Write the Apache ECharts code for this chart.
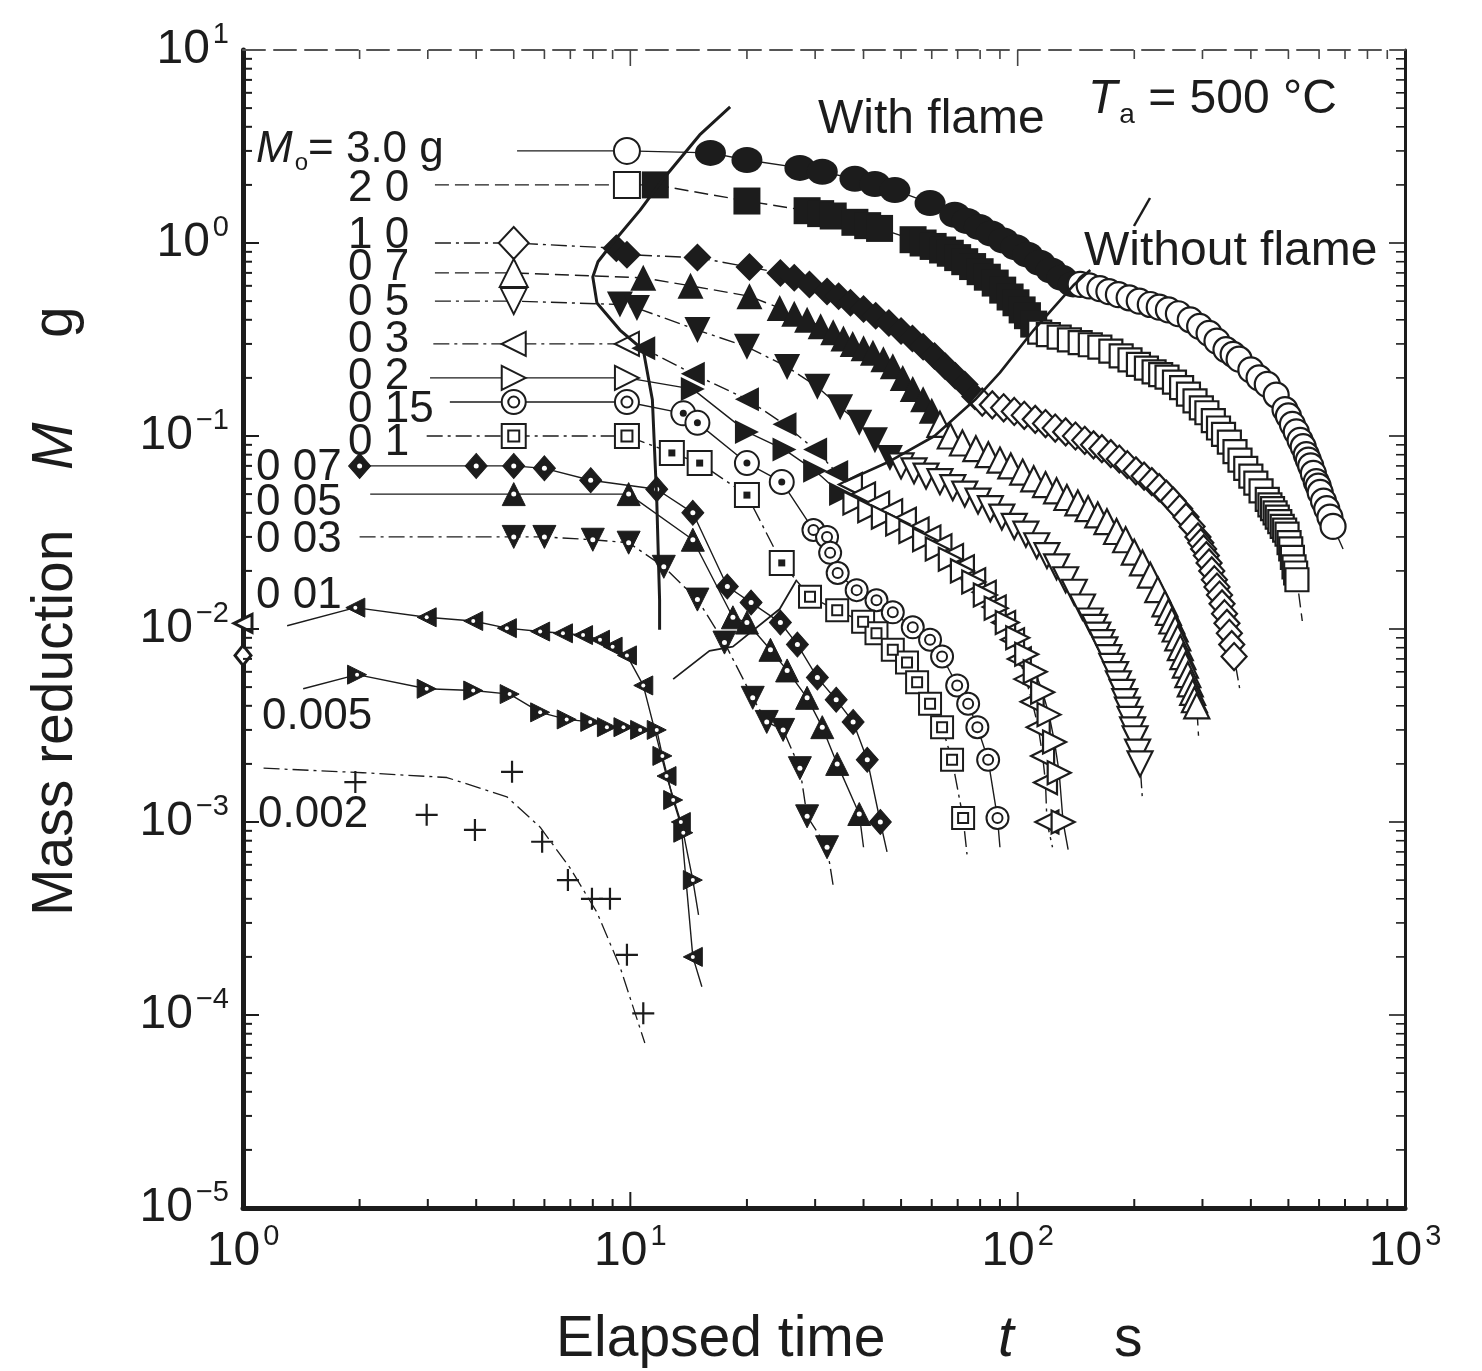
<!DOCTYPE html>
<html>
<head>
<meta charset="utf-8">
<script src="https://cdn.jsdelivr.net/npm/echarts@6/dist/echarts.min.js"></script>
<style>
  html, body { margin: 0; padding: 0; background: #fff; }
  #chart { width: 1482px; height: 1371px; }
</style>
</head>
<body>
<div id="chart"></div>
<script>
// Mass remaining M (g) against elapsed time t (s) for wood samples of initial mass M0, Ta = 500 C.
// Each sample: open marks before ignition, filled marks while flaming, open marks after the flame.

// ---- axis tick values ----
const xMajorTicks = [10, 100];
const xMinorTicks = [2, 3, 4, 5, 6, 7, 8, 9, 20, 30, 40, 50, 60, 70, 80, 90, 200, 300, 400, 500, 600, 700, 800, 900];
const yMajorTicks = [1e-4, 1e-3, 1e-2, 1e-1, 1];
const yMinorTicks = [
  2e-5, 3e-5, 4e-5, 5e-5, 6e-5, 7e-5, 8e-5, 9e-5,
  2e-4, 3e-4, 4e-4, 5e-4, 6e-4, 7e-4, 8e-4, 9e-4,
  2e-3, 3e-3, 4e-3, 5e-3, 6e-3, 7e-3, 8e-3, 9e-3,
  2e-2, 3e-2, 4e-2, 5e-2, 6e-2, 7e-2, 8e-2, 9e-2,
  0.2, 0.3, 0.4, 0.5, 0.6, 0.7, 0.8, 0.9,
  2, 3, 4, 5, 6, 7, 8, 9
];

// ---- M0 = 3.0 g (circles) ----
const m30Lead = [5.1, 3.0];
const m30Before = [[9.8, 3.0]];
const m30Flame = [[16.1, 2.93], [20, 2.69], [27.4, 2.45], [31.3, 2.34], [38, 2.15], [42.8, 2.02], [48.2, 1.88], [59.4, 1.61], [68.8, 1.40], [74, 1.30], [79.6, 1.21], [85.5, 1.12], [91.9, 1.03], [98.8, 0.95], [106, 0.87], [114, 0.79], [122, 0.72], [130, 0.66], [139, 0.61]];
const m30After = [[145, 0.61], [153, 0.60], [163, 0.58], [172, 0.56], [182, 0.54], [194, 0.52], [206, 0.50], [220, 0.48], [232, 0.465], [245, 0.45], [260, 0.43], [279, 0.40], [295, 0.37], [312, 0.34], [327, 0.31], [345, 0.28], [360, 0.265], [373, 0.25], [400, 0.22], [420, 0.20], [441, 0.185], [465, 0.163], [490, 0.137], [500, 0.127], [512, 0.115], [524, 0.105], [536, 0.095], [546, 0.088], [556, 0.08], [563, 0.075], [571, 0.07], [580, 0.064], [590, 0.058], [597, 0.055], [604, 0.051], [616, 0.046], [628, 0.042], [640, 0.038], [652, 0.034]];
const m30Tail = [692, 0.026];

// ---- M0 = 2.0 g (squares) ----
const m20Lead = [3.13, 2.0];
const m20Before = [[9.8, 2.0]];
const m20Flame = [[11.6, 2.0], [20, 1.65], [28.6, 1.47], [31, 1.42], [33.4, 1.38], [38, 1.28], [41, 1.23], [44, 1.19], [53.7, 1.04], [57, 1.0], [60.5, 0.96], [64, 0.92], [67, 0.885], [70, 0.84], [73, 0.80], [76.5, 0.755], [80, 0.71], [83.5, 0.665], [87.5, 0.62], [91.5, 0.57], [95.6, 0.525], [99, 0.49], [102.7, 0.45], [106, 0.42], [110, 0.38]];
const m20After = [[114, 0.345], [120, 0.335], [128, 0.325], [136, 0.315], [145, 0.305], [154, 0.297], [163, 0.289], [174, 0.275], [185, 0.26], [195, 0.248], [205, 0.235], [215, 0.225], [225, 0.215], [234, 0.208], [243, 0.202], [254, 0.19], [265, 0.178], [276, 0.165], [287, 0.152], [298, 0.14], [308, 0.132], [320, 0.12], [330, 0.11], [340, 0.102], [352, 0.093], [364, 0.083], [375, 0.075], [388, 0.068], [400, 0.062], [412, 0.057], [425, 0.052], [441, 0.047], [448, 0.044], [455, 0.042], [462, 0.040], [468, 0.038], [475, 0.036], [482, 0.034], [489, 0.0325], [496, 0.031], [502, 0.028], [507, 0.026], [512, 0.0235], [517, 0.021], [522, 0.0195], [526, 0.018]];
const m20Tail = [543, 0.011];

// ---- M0 = 1.0 g (diamonds) ----
const m10Lead = [3.13, 1.0];
const m10Before = [[5.0, 1.0]];
const m10Flame = [[9.2, 0.94], [9.8, 0.87], [14.9, 0.84], [20.3, 0.75], [24.4, 0.70], [26.5, 0.66], [29, 0.61], [32.2, 0.56], [34.5, 0.53], [37, 0.49], [40, 0.455], [43, 0.42], [46.5, 0.385], [50, 0.35], [53.5, 0.32], [57, 0.29], [61, 0.26], [65, 0.23], [69, 0.205], [73, 0.185], [77.6, 0.16]];
const m10After = [[81, 0.15], [86, 0.145], [92, 0.14], [98, 0.134], [104, 0.128], [111, 0.122], [118, 0.116], [125, 0.11], [133, 0.105], [141, 0.1], [149, 0.095], [157, 0.09], [165, 0.086], [174, 0.081], [183, 0.076], [192, 0.071], [202, 0.066], [212, 0.062], [222, 0.058], [232, 0.054], [242, 0.05], [252, 0.046], [262, 0.042], [272, 0.038], [282, 0.034], [292, 0.03], [297, 0.028], [302, 0.026], [307, 0.024], [312, 0.022], [317, 0.02], [322, 0.018], [327, 0.0165], [332, 0.015], [337, 0.0135], [342, 0.012], [347, 0.0107], [352, 0.0095], [357, 0.0083], [362, 0.0072]];
const m10Tail = [375, 0.0048];

// ---- M0 = 0.7 g (triangles up) ----
const m07Lead = [3.13, 0.7];
const m07Before = [[5.0, 0.7]];
const m07Flame = [[10.8, 0.66], [14.3, 0.60], [20.3, 0.53], [24.3, 0.46], [26.5, 0.43], [28.6, 0.40], [31, 0.37], [33.4, 0.345], [35.5, 0.32], [37.5, 0.30], [40, 0.285], [42.3, 0.27], [45, 0.25], [47.6, 0.23], [50.5, 0.2], [53.6, 0.175], [57, 0.155], [60, 0.135]];
const m07After = [[63, 0.115], [67, 0.1], [72, 0.092], [78, 0.086], [84, 0.08], [90, 0.075], [96, 0.07], [103, 0.065], [110, 0.06], [118, 0.056], [126, 0.052], [134, 0.048], [143, 0.045], [152, 0.042], [161, 0.039], [170, 0.036], [180, 0.032], [190, 0.029], [200, 0.025], [210, 0.022], [220, 0.019], [230, 0.016], [240, 0.0135], [245, 0.0122], [250, 0.011], [255, 0.01], [259, 0.009], [263, 0.008], [267, 0.0072], [271, 0.0065], [275, 0.0058], [279, 0.0052], [283, 0.0047], [286, 0.0043], [290, 0.004]];
const m07Tail = [293, 0.0028];

// ---- M0 = 0.5 g (triangles down) ----
const m05Lead = [3.13, 0.5];
const m05Before = [[5.0, 0.5]];
const m05Flame = [[9.4, 0.48], [10.4, 0.46], [14.9, 0.354], [20, 0.29], [25.4, 0.228], [30.4, 0.18], [34.8, 0.141], [39, 0.117], [42.8, 0.095], [46.8, 0.077]];
const m05After = [[50, 0.07], [54, 0.066], [58, 0.062], [63, 0.058], [68, 0.054], [73, 0.05], [79, 0.046], [85, 0.042], [91, 0.038], [98, 0.034], [105, 0.031], [112, 0.027], [119, 0.024], [126, 0.021], [133, 0.018], [140, 0.0155], [147, 0.013], [154, 0.011], [158, 0.0102], [161, 0.0093], [165, 0.0085], [168, 0.0078], [172, 0.0071], [175, 0.0064], [179, 0.0058], [182, 0.0052], [186, 0.0047], [189, 0.0042], [192, 0.0038], [195, 0.0034], [198, 0.003], [201, 0.0027], [204, 0.0023], [207, 0.002]];
const m05Tail = [210, 0.0013];

// ---- M0 = 0.3 g (triangles left) ----
const m03Lead = [3.1, 0.3];
const m03Before = [[5.0, 0.3], [9.8, 0.3]];
const m03Flame = [[10.8, 0.285], [14.5, 0.21], [20, 0.155], [25, 0.115], [30, 0.085], [34, 0.065]];
const m03After = [[37, 0.056], [40, 0.05], [43.5, 0.045], [47, 0.041], [51, 0.037], [55, 0.033], [59, 0.03], [63, 0.027], [67.5, 0.024], [72, 0.021], [77, 0.018], [82, 0.0155], [87, 0.013], [92, 0.0108], [97, 0.0088], [101, 0.007], [105, 0.0055], [109, 0.0042], [113, 0.0031], [116, 0.0022], [118, 0.0016], [119, 0.001]];
const m03Tail = [123, 0.00074];

// ---- M0 = 0.2 g (triangles right) ----
const m02Lead = [3.04, 0.2];
const m02Before = [[5.0, 0.2], [9.8, 0.2]];
const m02Flame = [[14.5, 0.175], [20, 0.105], [25, 0.085], [30, 0.066], [35, 0.05]];
const m02After = [[38, 0.045], [41.5, 0.041], [45, 0.038], [49, 0.035], [53, 0.032], [57.5, 0.029], [62, 0.026], [67, 0.023], [72, 0.02], [77, 0.0175], [82.5, 0.015], [88, 0.0128], [94, 0.0108], [100, 0.009], [105.5, 0.0074], [111, 0.006], [116, 0.0047], [120.5, 0.0036], [124.5, 0.0026], [128, 0.0018], [131, 0.001]];
const m02Tail = [135, 0.00072];

// ---- M0 = 0.15 g (double circles) ----
const m015Lead = [3.42, 0.15];
const m015Before = [[5.0, 0.15], [9.8, 0.15]];
const m015Flame = [[13.7, 0.131], [14.9, 0.117], [20, 0.0724], [24.6, 0.0578]];
const m015After = [[29.7, 0.0326], [32.2, 0.030], [32.8, 0.0248], [34.3, 0.0195], [38.4, 0.0159], [43.2, 0.0141], [47.6, 0.0122], [53.6, 0.0102], [59.4, 0.0088], [63.8, 0.0072], [69.8, 0.0051], [74.5, 0.0041], [78.7, 0.0031], [83.9, 0.0021], [88.7, 0.00105]];
const m015Tail = [90, 0.00074];

// ---- M0 = 0.1 g (squares with inner square) ----
const m01Lead = [2.98, 0.1];
const m01Before = [[5.0, 0.1], [9.8, 0.1]];
const m01Flame = [[12.8, 0.0817], [15.1, 0.0724], [20, 0.0494], [24.6, 0.022]];
const m01After = [[29.1, 0.0147], [34.2, 0.0125], [39.9, 0.0109], [43.2, 0.0095], [47.6, 0.0078], [51.8, 0.0067], [55, 0.0053], [59.4, 0.0041], [63.8, 0.0031], [67.7, 0.0021], [72.3, 0.00105]];
const m01Tail = [74, 0.00068];

// ---- M0 = 0.07, 0.05, 0.03 g ----
const m007Pts = [[2, 0.07], [4, 0.07], [5, 0.07], [6, 0.068], [7.9, 0.059], [11.7, 0.053], [14.5, 0.04], [17.8, 0.0166], [20.5, 0.0137], [24.4, 0.0108], [27, 0.0083], [30.4, 0.0056], [34, 0.0043], [37.6, 0.0033], [40.9, 0.0021], [44.2, 0.001]];
const m007Tail = [46, 0.0007];
const m005Lead = [2.13, 0.05];
const m005Pts = [[5, 0.05], [9.9, 0.05], [14.5, 0.029], [18.4, 0.0115], [20, 0.0108], [23, 0.0078], [25.4, 0.0061], [28.6, 0.0044], [31.3, 0.0031], [34.2, 0.002], [39, 0.0011]];
const m005Tail = [40, 0.00074];
const m003Lead = [2.0, 0.03];
const m003Pts = [[5, 0.03], [6, 0.03], [8, 0.029], [9.9, 0.028], [12.2, 0.021], [14.9, 0.0142], [17.5, 0.0085], [20.7, 0.0044], [22.5, 0.0033], [24.8, 0.003], [27.4, 0.0019], [28.6, 0.00107], [32.2, 0.00074]];
const m003Tail = [33.5, 0.00045];

// ---- M0 = 0.01, 0.005, 0.002 g ----
const m0010Lead = [1.3, 0.0104];
const m0010Pts = [[1.95, 0.0129], [2.98, 0.0115], [3.93, 0.011], [4.8, 0.0101], [5.85, 0.0097], [6.7, 0.0095], [7.55, 0.0093], [8.35, 0.0088], [9.0, 0.0081], [9.8, 0.0073], [10.8, 0.0051], [12.4, 0.00173], [13.5, 0.001], [14.5, 0.0002]];
const m0010Tail = [15.3, 0.00014];
const m0010AxisPts = [[1, 0.0107]];
const m0005Lead = [1.43, 0.0049];
const m0005Pts = [[1.97, 0.0058], [2.98, 0.0049], [3.93, 0.0048], [4.88, 0.0046], [5.85, 0.0037], [6.85, 0.0034], [7.88, 0.0033], [8.7, 0.0031], [9.6, 0.0031], [10.6, 0.003], [11.7, 0.003], [12.1, 0.0022], [12.9, 0.0013], [13.7, 0.00088], [14.5, 0.0005]];
const m0005Tail = [15, 0.00033];
const m0005AxisPts = [[1, 0.0073]];
const m0002Pts = [[1.95, 0.00161], [2.98, 0.00109], [3.97, 0.00091], [4.95, 0.00182], [5.92, 0.00079], [6.9, 0.0005], [7.96, 0.0004], [8.86, 0.0004], [9.8, 0.000205], [10.8, 0.000102]];
const m0002Fit = [[1.13, 0.0019], [2.04, 0.0018], [3.36, 0.0017], [4.8, 0.00135], [5.85, 0.00094], [6.98, 0.00058], [8.2, 0.00034], [9.4, 0.000178], [10.9, 0.0000716]];

// ---- boundaries between the burning regimes ----
const ignitionLine = [[18.1, 5.07], [15.1, 3.63], [12.1, 2.12], [10.6, 1.48], [9.0, 1.0], [8.25, 0.80], [8.0, 0.667], [8.2, 0.489], [9.4, 0.354], [10.8, 0.279], [11.4, 0.154], [11.7, 0.0466], [11.9, 0.0141], [11.9, 0.0099]];
const extinctionLine = [[154, 0.724], [140, 0.61], [110, 0.354], [90, 0.213], [77.6, 0.154], [61, 0.10], [46.8, 0.074], [35.8, 0.058]];
const extinctionLower = [[26.9, 0.018], [24.3, 0.0127], [18.4, 0.0081], [16, 0.0077], [12.9, 0.0055]];

// ---------------------------------------------------------------
const INK = '#1c1c1c';
const FONT = '"Liberation Sans", Arial, sans-serif';
const series = [];

function addLine(data, type, width, z) {
  series.push({
    type: 'line', data: data, symbol: 'none', showSymbol: false, silent: true,
    z: z || 2, animation: false,
    lineStyle: { color: INK, width: width || 1.4, type: type || 'solid' }
  });
}
function addMarks(data, symbol, size, opt) {
  opt = opt || {};
  series.push({
    type: 'scatter', data: data, symbol: symbol, symbolSize: size,
    symbolRotate: opt.rot || 0, silent: true, z: opt.z || 3, animation: false,
    itemStyle: {
      color: opt.fill || '#fff', borderColor: INK,
      borderWidth: opt.bw === undefined ? 2 : opt.bw, opacity: 1
    }
  });
}
// dark mark with a small light centre
function addDarkMarks(data, symbol, size, rot, dot) {
  addMarks(data, symbol, size, { rot: rot, fill: INK, bw: 1 });
  addMarks(data, 'circle', dot || 5, { fill: '#fff', bw: 0, z: 4 });
}
const pts = (lead, groups, tail) => [].concat(lead ? [lead] : [], ...groups, tail ? [tail] : []);

const DASH = [14, 6];
const DASHDOT = [16, 5, 3, 5];
const PLUS = 'path://M9,0h2v9h9v2h-9v9h-2v-9h-9v-2h9z';

// 3.0 g
addLine(pts(m30Lead, [m30Before, m30Flame, m30After], m30Tail), 'solid');
addMarks(m30Before, 'circle', 26);
addMarks(m30Flame, 'circle', [31, 26], { fill: INK, bw: 0 });
addMarks(m30After, 'circle', 25, { bw: 2.2 });
// 2.0 g
addLine(pts(m20Lead, [m20Before, m20Flame, m20After], m20Tail), DASH);
addMarks(m20Before, 'rect', 26);
addMarks(m20Flame, 'rect', 27, { fill: INK, bw: 0 });
addMarks(m20After, 'rect', 23, { bw: 2.2 });
// 1.0 g
addLine(pts(m10Lead, [m10Before, m10Flame, m10After], m10Tail), DASHDOT);
addMarks(m10Before, 'diamond', [30, 32]);
addMarks(m10Flame, 'diamond', [28, 28], { fill: INK, bw: 0 });
addMarks(m10After, 'diamond', [25, 27], { bw: 2.2 });
// 0.7 g
addLine(pts(m07Lead, [m07Before, m07Flame, m07After], m07Tail), DASH);
addMarks(m07Before, 'triangle', 28);
addMarks(m07Flame, 'triangle', 26, { fill: INK, bw: 0 });
addMarks(m07After, 'triangle', 25, { bw: 2.2 });
// 0.5 g
addLine(pts(m05Lead, [m05Before, m05Flame, m05After], m05Tail), DASHDOT);
addMarks(m05Before, 'triangle', 26, { rot: 180 });
addMarks(m05Flame, 'triangle', 26, { rot: 180, fill: INK, bw: 0 });
addMarks(m05After, 'triangle', 25, { rot: 180, bw: 2.2 });
// 0.3 g
addLine(pts(m03Lead, [m03Before, m03Flame, m03After], m03Tail), DASHDOT);
addMarks(m03Before, 'triangle', 24, { rot: 90 });
addMarks(m03Flame, 'triangle', 24, { rot: 90, fill: INK, bw: 0 });
addMarks(m03After, 'triangle', 23, { rot: 90, bw: 2.2 });
// 0.2 g
addLine(pts(m02Lead, [m02Before, m02Flame, m02After], m02Tail), 'solid');
addMarks(m02Before, 'triangle', 24, { rot: -90 });
addMarks(m02Flame, 'triangle', 24, { rot: -90, fill: INK, bw: 0 });
addMarks(m02After, 'triangle', 23, { rot: -90, bw: 2.2 });
// 0.15 g
addLine(pts(m015Lead, [m015Before, m015Flame, m015After], m015Tail), 'solid');
addMarks(m015Before, 'circle', 24);
addMarks(m015Before, 'circle', 11, { z: 4 });
addMarks(m015Flame, 'circle', 24);
addMarks(m015Flame, 'circle', 7, { fill: INK, bw: 0, z: 4 });
addMarks(m015After, 'circle', 22);
addMarks(m015After, 'circle', 10, { z: 4 });
// 0.1 g
addLine(pts(m01Lead, [m01Before, m01Flame, m01After], m01Tail), DASHDOT);
addMarks(m01Before, 'rect', 24);
addMarks(m01Before, 'rect', 11, { z: 4 });
addMarks(m01Flame, 'rect', 24);
addMarks(m01Flame, 'rect', 7, { fill: INK, bw: 0, z: 4 });
addMarks(m01After, 'rect', 22);
addMarks(m01After, 'rect', 10, { z: 4 });
// 0.07 g
addLine(pts(null, [m007Pts], m007Tail), 'solid');
addDarkMarks(m007Pts, 'diamond', [22, 25], 0, 5);
// 0.05 g
addLine(pts(m005Lead, [m005Pts], m005Tail), 'solid');
addDarkMarks(m005Pts, 'triangle', 23, 0, 5);
// 0.03 g
addLine(pts(m003Lead, [m003Pts], m003Tail), DASHDOT);
addDarkMarks(m003Pts, 'triangle', 23, 180, 5);
// 0.01 g
addLine(pts(m0010Lead, [m0010Pts], m0010Tail), 'solid');
addDarkMarks(m0010Pts, 'triangle', 19, 90, 4);
addMarks(m0010AxisPts, 'triangle', 18, { rot: 90, bw: 3 });
// 0.005 g
addLine(pts(m0005Lead, [m0005Pts], m0005Tail), 'solid');
addDarkMarks(m0005Pts, 'triangle', 19, -90, 4);
addMarks(m0005AxisPts, 'diamond', [16, 20], { bw: 3 });
// 0.002 g
addLine(m0002Fit, DASHDOT, 1.3);
addMarks(m0002Pts, PLUS, 22, { fill: INK, bw: 0 });

// regime boundaries
addLine(ignitionLine, 'solid', 3, 5);
addLine(extinctionLine, 'solid', 2.6, 5);
addLine(extinctionLower, 'solid', 1.8, 5);

// ---- inward tick marks on all four sides ----
function xTicks(len) {
  return function (params, api) {
    const cs = params.coordSys;
    const p = api.coord([api.value(0), 1]);
    return {
      type: 'group', children: [
        { type: 'line', shape: { x1: p[0], y1: cs.y + cs.height, x2: p[0], y2: cs.y + cs.height - len }, style: { stroke: INK, lineWidth: 2 } },
        { type: 'line', shape: { x1: p[0], y1: cs.y, x2: p[0], y2: cs.y + len }, style: { stroke: '#444', lineWidth: 1.6 } }
      ]
    };
  };
}
function yTicks(len) {
  return function (params, api) {
    const cs = params.coordSys;
    const p = api.coord([1, api.value(1)]);
    return {
      type: 'group', children: [
        { type: 'line', shape: { x1: cs.x, y1: p[1], x2: cs.x + len, y2: p[1] }, style: { stroke: INK, lineWidth: 2 } },
        { type: 'line', shape: { x1: cs.x + cs.width, y1: p[1], x2: cs.x + cs.width - len, y2: p[1] }, style: { stroke: INK, lineWidth: 1.6 } }
      ]
    };
  };
}
series.push({ type: 'custom', renderItem: xTicks(16), data: xMajorTicks.map(v => [v, 1]), silent: true, z: 6, animation: false });
series.push({ type: 'custom', renderItem: xTicks(9), data: xMinorTicks.map(v => [v, 1]), silent: true, z: 6, animation: false });
series.push({ type: 'custom', renderItem: yTicks(16), data: yMajorTicks.map(v => [1, v]), silent: true, z: 6, animation: false });
series.push({ type: 'custom', renderItem: yTicks(9), data: yMinorTicks.map(v => [1, v]), silent: true, z: 6, animation: false });

// ---- tick labels as powers of ten ----
const powRich = {
  b: { fontSize: 48, fontFamily: FONT, color: INK },
  s: { fontSize: 29, fontFamily: FONT, color: INK, padding: [0, 0, 30, 3] }
};
function powLabel(v) {
  const n = Math.round(Math.log10(v));
  return '{b|10}{s|' + (n < 0 ? '\u2212' + (-n) : n) + '}';
}

// ---- annotation texts ----
function t(x, y, text, size, extra) {
  return {
    type: 'text', x: x, y: y, silent: true, z: 20,
    style: Object.assign({ text: text, font: size + 'px ' + FONT, fill: INK, align: 'left', verticalAlign: 'middle' }, extra || {})
  };
}
const labelRich = {
  i: { fontSize: 44, fontFamily: FONT, fontStyle: 'italic', fill: INK },
  o: { fontSize: 24, fontFamily: FONT, fill: INK, padding: [26, 0, 0, 2] },
  n: { fontSize: 44, fontFamily: FONT, fill: INK }
};
const graphics = [
  { type: 'text', x: 256, y: 150, silent: true, z: 20, style: { text: '{i|M}{o|o}{n|= 3.0 g}', rich: labelRich, verticalAlign: 'middle' } },
  t(348, 189, '2 0', 44), t(348, 236, '1 0', 44), t(348, 268, '0 7', 44), t(348, 303, '0 5', 44),
  t(348, 340, '0 3', 44), t(348, 377, '0 2', 44), t(348, 410, '0 15', 44), t(348, 443, '0 1', 44),
  t(256, 468, '0 07', 44), t(256, 503, '0 05', 44), t(256, 540, '0 03', 44), t(256, 596, '0 01', 44),
  t(262, 717, '0.005', 44), t(258, 815, '0.002', 44),
  t(818, 120, 'With flame', 48),
  { type: 'text', x: 1088, y: 100, silent: true, z: 20, style: {
      text: '{i|T}{o|a}{n| = 500 \u00B0C}', verticalAlign: 'middle',
      rich: {
        i: { fontSize: 48, fontFamily: FONT, fontStyle: 'italic', fill: INK },
        o: { fontSize: 28, fontFamily: FONT, fill: INK, padding: [30, 0, 0, 2] },
        n: { fontSize: 48, fontFamily: FONT, fill: INK }
      } } },
  t(1084, 252, 'Without flame', 48),
  { type: 'line', silent: true, z: 20, shape: { x1: 1134, y1: 226, x2: 1150, y2: 198 }, style: { stroke: INK, lineWidth: 2.5 } },
  // axis titles
  t(556, 1340, 'Elapsed time', 57),
  t(998, 1340, 't', 57, { font: 'italic 57px ' + FONT }),
  t(1114, 1340, 's', 57),
  { type: 'text', x: 56, y: 916, rotation: Math.PI / 2, silent: true, z: 20, style: { text: 'Mass reduction', font: '57px ' + FONT, fill: INK, align: 'left', verticalAlign: 'middle' } },
  { type: 'text', x: 56, y: 470, rotation: Math.PI / 2, silent: true, z: 20, style: { text: 'M', font: 'italic 57px ' + FONT, fill: INK, align: 'left', verticalAlign: 'middle' } },
  { type: 'text', x: 56, y: 338, rotation: Math.PI / 2, silent: true, z: 20, style: { text: 'g', font: '57px ' + FONT, fill: INK, align: 'left', verticalAlign: 'middle' } }
];

const chart = echarts.init(document.getElementById('chart'), null, { renderer: 'canvas' });
chart.setOption({
  animation: false,
  backgroundColor: '#fff',
  grid: { left: 243, right: 77, top: 50, bottom: 163, containLabel: false, outerBoundsMode: 'none' },
  xAxis: [
    {
      type: 'log', logBase: 10, min: 1, max: 1000, position: 'bottom',
      axisLine: { show: true, onZero: false, lineStyle: { color: INK, width: 5 } },
      axisTick: { show: false }, splitLine: { show: false }, minorTick: { show: false },
      axisLabel: { margin: 14, formatter: powLabel, rich: powRich }
    },
    {
      type: 'log', logBase: 10, min: 1, max: 1000, position: 'top',
      axisLine: { show: true, onZero: false, lineStyle: { color: '#555', width: 2, type: [22, 9] } },
      axisTick: { show: false }, axisLabel: { show: false }, splitLine: { show: false }
    }
  ],
  yAxis: [
    {
      type: 'log', logBase: 10, min: 1e-5, max: 10, position: 'left',
      axisLine: { show: true, onZero: false, lineStyle: { color: INK, width: 5 } },
      axisTick: { show: false }, splitLine: { show: false }, minorTick: { show: false },
      axisLabel: { margin: 14, formatter: powLabel, rich: powRich }
    },
    {
      type: 'log', logBase: 10, min: 1e-5, max: 10, position: 'right',
      axisLine: { show: true, onZero: false, lineStyle: { color: INK, width: 3 } },
      axisTick: { show: false }, axisLabel: { show: false }, splitLine: { show: false }
    }
  ],
  series: series,
  graphic: graphics
});
</script>
</body>
</html>
